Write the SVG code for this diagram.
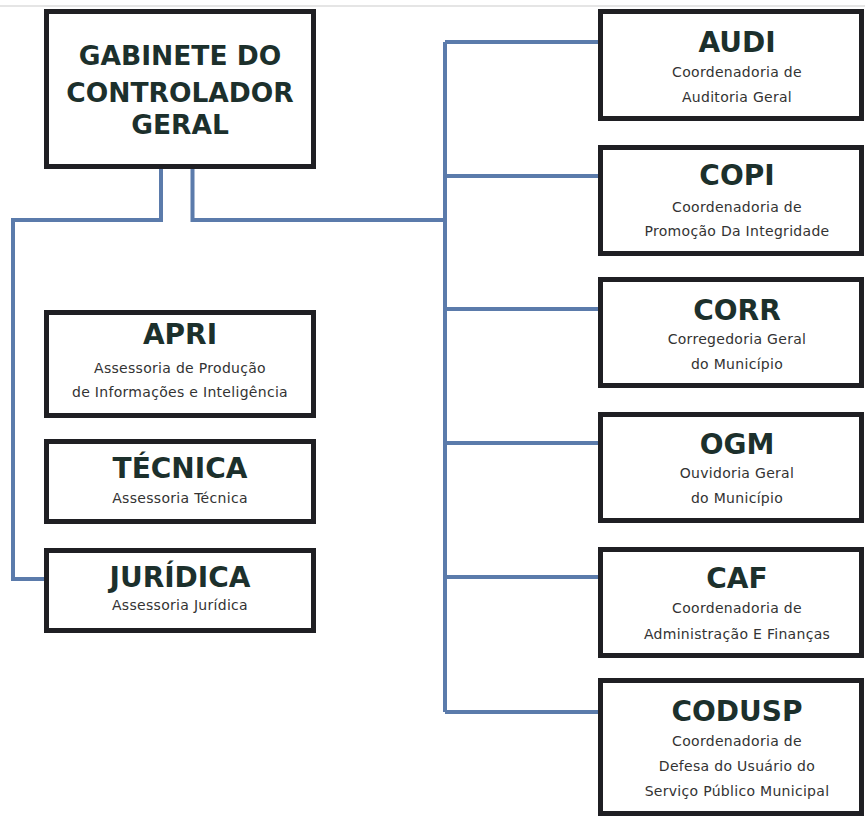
<svg xmlns="http://www.w3.org/2000/svg" width="865" height="816" viewBox="0 0 865 816">
<style>
.box{fill:#ffffff;stroke:#1f1f23;stroke-width:5}
.conn{fill:none;stroke:#5b7bab;stroke-width:4;stroke-linejoin:miter;stroke-linecap:butt}
.t{font-family:"DejaVu Sans","Liberation Sans",sans-serif;font-weight:bold;font-size:28px;fill:#1c302c;text-anchor:middle}
.m{font-family:"DejaVu Sans","Liberation Sans",sans-serif;font-weight:bold;font-size:26.5px;fill:#1c302c;text-anchor:middle}
.s{font-family:"DejaVu Sans","Liberation Sans",sans-serif;font-size:14px;letter-spacing:0.3px;fill:#333333;text-anchor:middle}
</style>
<rect x="0" y="0" width="865" height="816" fill="#ffffff"/>
<line x1="0" y1="6" x2="865" y2="6" stroke="#dcdcdc" stroke-width="1.5"/>
<g id="connectors">
<path class="conn" d="M161,169 V220 H13 V579 H44"/>
<path class="conn" d="M192.5,169 V220 H445"/>
<path class="conn" d="M445,42 V712"/>
<path class="conn" d="M445,42 H598"/>
<path class="conn" d="M445,176 H598"/>
<path class="conn" d="M445,309 H598"/>
<path class="conn" d="M445,443 H598"/>
<path class="conn" d="M445,577 H598"/>
<path class="conn" d="M445,712 H598"/>
</g>
<g id="gabinete">
<rect class="box" x="46.5" y="11.5" width="267" height="155"/>
<text class="m" x="180" y="65">GABINETE DO</text>
<text class="m" x="180" y="102">CONTROLADOR</text>
<text class="m" x="180" y="134">GERAL</text>
</g>
<g id="apri">
<rect class="box" x="46.5" y="312.5" width="267" height="103"/>
<text class="t" x="180" y="344">APRI</text>
<text class="s" x="180" y="373">Assessoria de Produção</text>
<text class="s" x="180" y="397">de Informações e Inteligência</text>
</g>
<g id="tecnica">
<rect class="box" x="46.5" y="441.5" width="267" height="80"/>
<text class="t" x="180" y="478">TÉCNICA</text>
<text class="s" x="180" y="503">Assessoria Técnica</text>
</g>
<g id="juridica">
<rect class="box" x="46.5" y="550.5" width="267" height="80"/>
<text class="t" x="180" y="587">JURÍDICA</text>
<text class="s" x="180" y="610">Assessoria Jurídica</text>
</g>
<g id="audi">
<rect class="box" x="600.5" y="11.5" width="261" height="107"/>
<text class="t" x="737" y="52">AUDI</text>
<text class="s" x="737" y="77">Coordenadoria de</text>
<text class="s" x="737" y="102">Auditoria Geral</text>
</g>
<g id="copi">
<rect class="box" x="600.5" y="147.5" width="261" height="106"/>
<text class="t" x="737" y="185">COPI</text>
<text class="s" x="737" y="212">Coordenadoria de</text>
<text class="s" x="737" y="236">Promoção Da Integridade</text>
</g>
<g id="corr">
<rect class="box" x="600.5" y="279.5" width="261" height="106"/>
<text class="t" x="737" y="320">CORR</text>
<text class="s" x="737" y="344">Corregedoria Geral</text>
<text class="s" x="737" y="369">do Município</text>
</g>
<g id="ogm">
<rect class="box" x="600.5" y="414.5" width="261" height="106"/>
<text class="t" x="737" y="454">OGM</text>
<text class="s" x="737" y="478">Ouvidoria Geral</text>
<text class="s" x="737" y="503">do Município</text>
</g>
<g id="caf">
<rect class="box" x="600.5" y="549.5" width="261" height="106"/>
<text class="t" x="737" y="588">CAF</text>
<text class="s" x="737" y="613">Coordenadoria de</text>
<text class="s" x="737" y="639">Administração E Finanças</text>
</g>
<g id="codusp">
<rect class="box" x="600.5" y="680.5" width="261" height="133"/>
<text class="t" x="737" y="721">CODUSP</text>
<text class="s" x="737" y="746">Coordenadoria de</text>
<text class="s" x="737" y="771">Defesa do Usuário do</text>
<text class="s" x="737" y="796">Serviço Público Municipal</text>
</g>
</svg>
